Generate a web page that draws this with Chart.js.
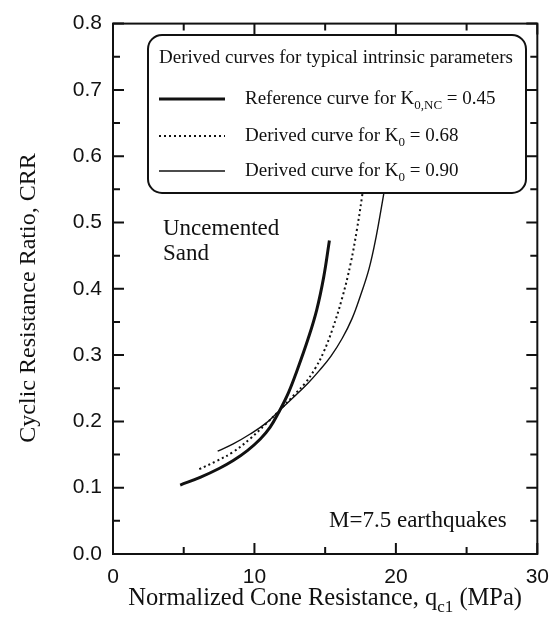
<!DOCTYPE html>
<html>
<head>
<meta charset="utf-8">
<script src="https://cdn.jsdelivr.net/npm/chart.js@4/dist/chart.umd.min.js"></script>
<style>
  html, body { margin: 0; padding: 0; background: #fff; }
  canvas { display: block; }
</style>
</head>
<body>
<canvas id="crr" width="560" height="619"></canvas>
<script>
// Reference CRR curve, K0,NC = 0.45
const qc1Ref = [4.75, 6.2, 7.5, 8.5, 9.5, 10.4, 11.1, 11.7, 12.4, 13.0, 13.8, 14.4, 14.9, 15.3];
const crrRef = [0.104, 0.116, 0.129, 0.141, 0.156, 0.173, 0.191, 0.213, 0.243, 0.276, 0.325, 0.368, 0.418, 0.473];

// Derived curve, K0 = 0.68
const qc1K068 = [6.1, 7.3, 8.5, 9.7, 10.8, 11.7, 12.9, 13.6, 14.3, 14.9, 15.5, 16.2, 16.8, 17.25, 17.6, 18.0];
const crrK068 = [0.128, 0.14, 0.154, 0.174, 0.196, 0.215, 0.242, 0.258, 0.28, 0.305, 0.338, 0.386, 0.438, 0.49, 0.538, 0.6];

// Derived curve, K0 = 0.90
const qc1K090 = [7.4, 8.5, 9.7, 10.8, 11.7, 12.8, 13.8, 14.6, 15.4, 16.2, 16.9, 17.5, 18.1, 18.6, 19.1, 19.6];
const crrK090 = [0.155, 0.166, 0.181, 0.197, 0.215, 0.237, 0.258, 0.277, 0.298, 0.325, 0.355, 0.39, 0.43, 0.478, 0.538, 0.6];

// Axis ticks
const xMajorTicks = [0, 10, 20, 30];
const xMinorTicks = [5, 15, 25];
const yMajorTicks = [0.0, 0.1, 0.2, 0.3, 0.4, 0.5, 0.6, 0.7, 0.8];
const yMinorTicks = [0.05, 0.15, 0.25, 0.35, 0.45, 0.55, 0.65, 0.75];

// Text
const legendTitle = 'Derived curves for typical intrinsic parameters';
const legendRows = [
  [{ t: 'Reference curve for K' }, { t: '0,NC', sub: true }, { t: ' = 0.45' }],
  [{ t: 'Derived curve for K' }, { t: '0', sub: true }, { t: ' = 0.68' }],
  [{ t: 'Derived curve for K' }, { t: '0', sub: true }, { t: ' = 0.90' }]
];
const xTitle = [{ t: 'Normalized Cone Resistance, q' }, { t: 'c1', sub: true }, { t: ' (MPa)' }];
const yTitle = 'Cyclic Resistance Ratio, CRR';
const noteSoil = ['Uncemented', 'Sand'];
const noteQuake = 'M=7.5 earthquakes';

const SERIF = '"Liberation Serif", "DejaVu Serif", serif';
const SANS = '"Liberation Sans", Arial, sans-serif';
const INK = '#111';

const pts = (xs, ys) => xs.map((x, i) => ({ x: x, y: ys[i] }));

function drawRich(ctx, parts, x, y, size, align) {
  const subSize = Math.round(size * 0.68);
  const widths = parts.map(p => {
    ctx.font = (p.sub ? subSize : size) + 'px ' + SERIF;
    return ctx.measureText(p.t).width;
  });
  const total = widths.reduce((a, b) => a + b, 0);
  let cx = align === 'center' ? x - total / 2 : x;
  ctx.textAlign = 'left';
  ctx.textBaseline = 'alphabetic';
  parts.forEach((p, i) => {
    ctx.font = (p.sub ? subSize : size) + 'px ' + SERIF;
    ctx.fillText(p.t, cx, p.sub ? y + size * 0.28 : y);
    cx += widths[i];
  });
}

// Plot frame with inward major/minor ticks on all four sides
const frameAndTicks = {
  id: 'frameAndTicks',
  beforeDatasetsDraw(chart) {
    const { ctx, chartArea: a, scales: { x, y } } = chart;
    ctx.save();
    ctx.strokeStyle = INK;
    ctx.lineWidth = 2;
    ctx.strokeRect(a.left, a.top, a.right - a.left, a.bottom - a.top);
    ctx.beginPath();
    const xt = (vals, len) => vals.forEach(v => {
      const px = x.getPixelForValue(v);
      ctx.moveTo(px, a.bottom); ctx.lineTo(px, a.bottom - len);
      ctx.moveTo(px, a.top); ctx.lineTo(px, a.top + len);
    });
    const yt = (vals, len) => vals.forEach(v => {
      const py = y.getPixelForValue(v);
      ctx.moveTo(a.left, py); ctx.lineTo(a.left + len, py);
      ctx.moveTo(a.right, py); ctx.lineTo(a.right - len, py);
    });
    xt(xMajorTicks, 11); xt(xMinorTicks, 7);
    yt(yMajorTicks, 11); yt(yMinorTicks, 7);
    ctx.stroke();
    ctx.restore();
  }
};

// Boxed legend, notes and axis titles (with subscripts)
const annotations = {
  id: 'annotations',
  afterDatasetsDraw(chart) {
    const { ctx, chartArea: a } = chart;
    ctx.save();
    ctx.fillStyle = INK;
    ctx.strokeStyle = INK;

    const bx = 148, by = 35, bw = 378, bh = 158, r = 14;
    ctx.beginPath();
    ctx.roundRect(bx, by, bw, bh, r);
    ctx.fillStyle = '#fff';
    ctx.fill();
    ctx.lineWidth = 2;
    ctx.stroke();
    ctx.fillStyle = INK;

    ctx.font = '19px ' + SERIF;
    ctx.textAlign = 'left';
    ctx.textBaseline = 'alphabetic';
    ctx.fillText(legendTitle, 159, 63);

    const ds = chart.data.datasets;
    const rowY = [98, 135, 170];
    rowY.forEach((ry, i) => {
      const d = ds[2 - i];
      ctx.save();
      ctx.lineWidth = d.borderWidth;
      ctx.setLineDash(d.borderDash || []);
      ctx.beginPath();
      ctx.moveTo(159, ry + 1);
      ctx.lineTo(225, ry + 1);
      ctx.stroke();
      ctx.restore();
      drawRich(ctx, legendRows[i], 245, ry + 6, 19, 'left');
    });

    ctx.font = '23px ' + SERIF;
    ctx.textAlign = 'left';
    ctx.fillText(noteSoil[0], 163, 235);
    ctx.fillText(noteSoil[1], 163, 260);
    ctx.fillText(noteQuake, 329, 527);

    drawRich(ctx, xTitle, (a.left + a.right) / 2, 605, 24.5, 'center');
    ctx.save();
    ctx.translate(35, 298);
    ctx.rotate(-Math.PI / 2);
    ctx.font = '24px ' + SERIF;
    ctx.textAlign = 'center';
    ctx.textBaseline = 'alphabetic';
    ctx.fillText(yTitle, 0, 0);
    ctx.restore();

    ctx.restore();
  }
};

new Chart(document.getElementById('crr'), {
  type: 'line',
  data: {
    datasets: [
      { label: 'K0 = 0.90', data: pts(qc1K090, crrK090), borderColor: INK, borderWidth: 1.4, pointRadius: 0, tension: 0.4, fill: false },
      { label: 'K0 = 0.68', data: pts(qc1K068, crrK068), borderColor: INK, borderWidth: 2, borderDash: [2, 3], pointRadius: 0, tension: 0.4, fill: false },
      { label: 'K0,NC = 0.45', data: pts(qc1Ref, crrRef), borderColor: INK, borderWidth: 3, pointRadius: 0, tension: 0.4, fill: false }
    ]
  },
  options: {
    responsive: false,
    animation: false,
    devicePixelRatio: 1,
    layout: { padding: { top: 20, right: 12, left: 0, bottom: 0 } },
    plugins: { legend: { display: false }, tooltip: { enabled: false } },
    scales: {
      x: {
        type: 'linear', min: 0, max: 30,
        afterBuildTicks: s => { s.ticks = xMajorTicks.map(v => ({ value: v })); },
        afterFit: s => { s.height = 65; },
        grid: { display: false, drawTicks: false },
        border: { display: false },
        ticks: { padding: 11, color: INK, font: { family: SANS, size: 21 }, maxRotation: 0, autoSkip: false, callback: v => String(v) }
      },
      y: {
        type: 'linear', min: 0, max: 0.8,
        afterBuildTicks: s => { s.ticks = yMajorTicks.map(v => ({ value: v })); },
        afterFit: s => { s.width = 113; },
        grid: { display: false, drawTicks: false },
        border: { display: false },
        ticks: { padding: 11, color: INK, font: { family: SANS, size: 21 }, autoSkip: false, callback: v => Number(v).toFixed(1) }
      }
    }
  },
  plugins: [frameAndTicks, annotations]
});
</script>
</body>
</html>
